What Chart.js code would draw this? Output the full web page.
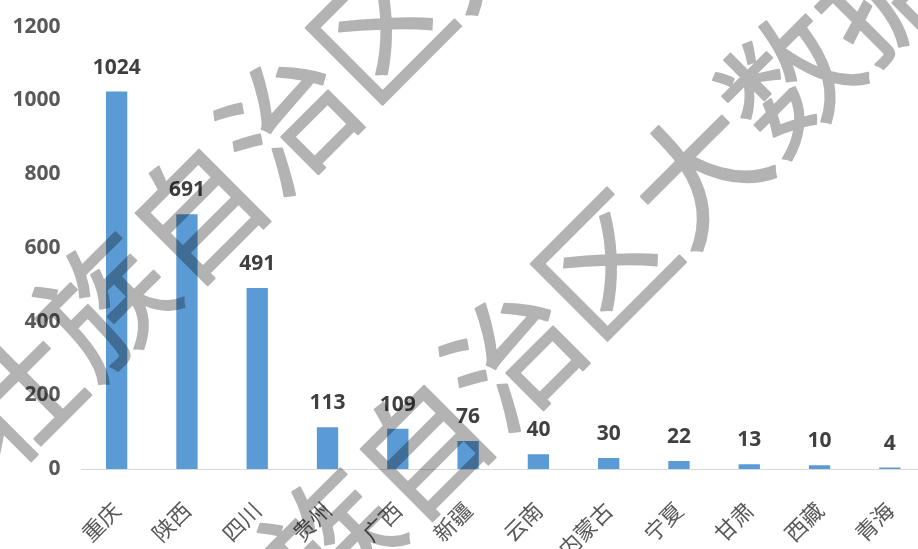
<!DOCTYPE html>
<html>
<head>
<meta charset="utf-8">
<script src="https://cdn.jsdelivr.net/npm/chart.js@4.4.1/dist/chart.umd.min.js"></script>
<style>
  html, body { margin: 0; padding: 0; overflow: hidden; background: #ffffff; width: 918px; height: 549px; }
  canvas { display: block; }
</style>
</head>
<body>
<canvas id="chart" width="925" height="549"></canvas>
<script>
// Categories and values
const provinces = ['重庆', '陕西', '四川', '贵州', '广西', '新疆', '云南', '内蒙古', '宁夏', '甘肃', '西藏', '青海'];
const counts = [1024, 691, 491, 113, 109, 76, 40, 30, 22, 13, 10, 4];
const yMin = 0;
const yMax = 1200;
const yStep = 200;

// Watermark text and the centre of its "区" glyph on each line
const watermarkText = '广西壮族自治区大数据';
const watermarkAnchors = [[380, 28], [605, 264]];

// Value printed above each bar
const barValueLabels = {
  id: 'barValueLabels',
  afterDatasetsDraw(chart) {
    const ctx = chart.ctx;
    const meta = chart.getDatasetMeta(0);
    ctx.save();
    ctx.font = 'bold 21px "Open Sans"';
    ctx.fillStyle = '#404040';
    ctx.textAlign = 'center';
    ctx.textBaseline = 'alphabetic';
    meta.data.forEach((bar, i) => {
      ctx.fillText(String(chart.data.datasets[0].data[i]), bar.x, bar.y - 18);
    });
    ctx.restore();
  }
};

// Diagonal grey watermark: painted on its own layer, then multiplied over the chart
const watermark = {
  id: 'watermark',
  afterDraw(chart) {
    const ctx = chart.ctx;
    const layer = document.createElement('canvas');
    layer.width = chart.width;
    layer.height = chart.height;
    const lc = layer.getContext('2d');
    lc.fillStyle = '#b3b3b3';
    lc.strokeStyle = '#b3b3b3';
    lc.lineWidth = 2;
    lc.lineJoin = 'round';
    lc.font = '130px "Noto Sans CJK SC"';
    lc.textBaseline = 'middle';
    lc.textAlign = 'left';
    const idx = watermarkText.indexOf('区');
    const before = lc.measureText(watermarkText.slice(0, idx)).width;
    const glyph = lc.measureText('区').width;
    watermarkAnchors.forEach(([x, y]) => {
      lc.save();
      lc.translate(x, y);
      lc.rotate(-Math.PI / 4);
      lc.fillText(watermarkText, -(before + glyph / 2), 0);
      lc.strokeText(watermarkText, -(before + glyph / 2), 0);
      lc.restore();
    });
    ctx.save();
    ctx.globalCompositeOperation = 'multiply';
    ctx.drawImage(layer, 0, 0);
    ctx.restore();
  }
};

new Chart(document.getElementById('chart'), {
  type: 'bar',
  data: {
    labels: provinces,
    datasets: [{
      data: counts,
      backgroundColor: '#5b9bd5',
      borderWidth: 0,
      barPercentage: 0.303,
      categoryPercentage: 1.0
    }]
  },
  options: {
    responsive: false,
    animation: false,
    layout: { padding: { top: 26.7, left: 0, right: 0, bottom: 0 } },
    plugins: {
      legend: { display: false },
      tooltip: { enabled: false }
    },
    scales: {
      x: {
        grid: { display: false, drawTicks: false },
        border: { display: true, color: '#d9d9d9', width: 1 },
        ticks: {
          font: { family: '"Noto Sans CJK SC"', size: 22 },
          color: '#595959',
          minRotation: 45,
          maxRotation: 45,
          padding: 28,
          autoSkip: false
        },
        afterFit(scale) {
          scale.height = 80;
          scale.paddingLeft = 0;
          scale.paddingRight = 0;
        }
      },
      y: {
        min: yMin,
        max: yMax,
        grid: { display: false, drawTicks: false },
        border: { display: false },
        ticks: {
          stepSize: yStep,
          font: { family: '"Open Sans"', size: 21, weight: 'bold' },
          color: '#595959',
          padding: 21,
          callback: (v) => String(v)
        },
        afterFit(scale) {
          scale.width = 81.5;
          scale.paddingTop = 0;
          scale.paddingBottom = 0;
        }
      }
    }
  },
  plugins: [barValueLabels, watermark]
});
</script>
</body>
</html>
